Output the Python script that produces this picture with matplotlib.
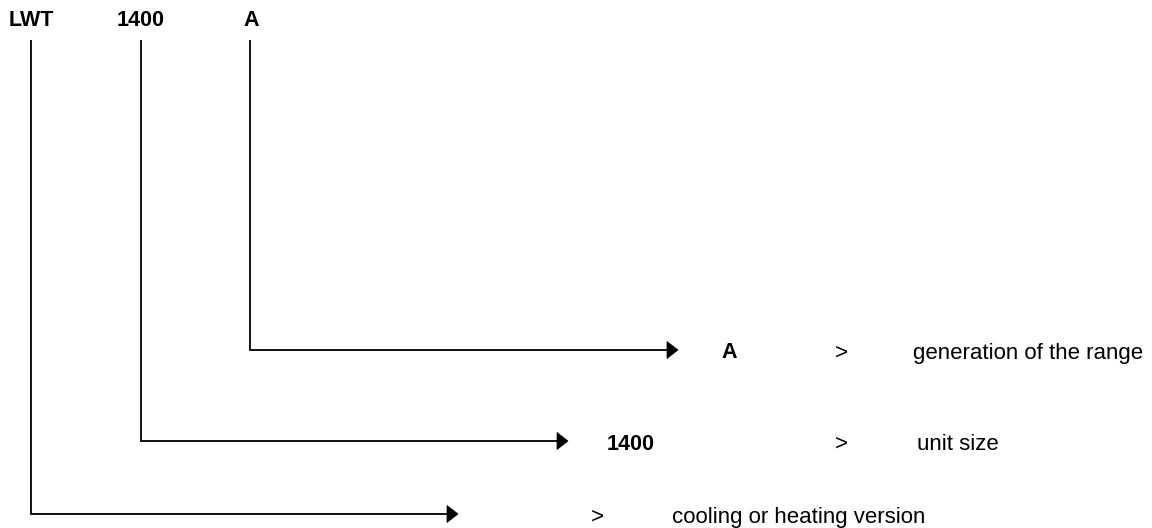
import matplotlib
matplotlib.use("Agg")
import matplotlib.pyplot as plt
from matplotlib.patches import Polygon

plt.rcParams['font.family'] = ['Liberation Sans', 'DejaVu Sans']

# Data
codes = ["LWT", "1400", "A"]
descriptions = ["cooling or heating version", "unit size", "generation of the range"]
row_codes = ["", "1400", "A"]

# Layout (pixel coordinates)
code_x = [31, 141, 250]          # vertical line x
code_label_x = [31, 141, 251]
top_y = 20
vline_top = 40
hline_y = [514, 441, 350]
arrow_tip = [458, 568, 678]
row_code_x = [None, 607, 721]
gt_x = [591, 835, 835]
desc_x = [672, 917, 913]

fig = plt.figure(figsize=(11.52, 5.28), dpi=100)
ax = fig.add_axes([0, 0, 1, 1])
ax.set_xlim(0, 1152)
ax.set_ylim(528, 0)
ax.axis('off')

fs_b = 15.5
fs = 16
for i, c in enumerate(codes):
    ax.text(code_label_x[i], top_y, c, ha='center', va='center',
            fontsize=fs_b, fontweight='bold')

head_len = 11
head_half = 8.5
for i in range(3):
    x0 = code_x[i]
    y = hline_y[i]
    tip = arrow_tip[i]
    ax.plot([x0, x0, tip - head_len + 1], [vline_top, y, y], color='black',
            lw=1.3, solid_joinstyle='miter', solid_capstyle='butt')
    ax.add_patch(Polygon([[tip - head_len, y - head_half], [tip, y],
                          [tip - head_len, y + head_half]],
                         closed=True, facecolor='black', edgecolor='black', lw=0.5))
    ty = y + 3
    if row_codes[i]:
        ax.text(row_code_x[i], ty, row_codes[i], ha='left', va='center',
                fontsize=fs_b, fontweight='bold')
    ax.text(gt_x[i], ty, ">", ha='left', va='center', fontsize=fs)
    ax.text(desc_x[i], ty, descriptions[i], ha='left', va='center', fontsize=fs)

fig.savefig("out.png", dpi=100)
